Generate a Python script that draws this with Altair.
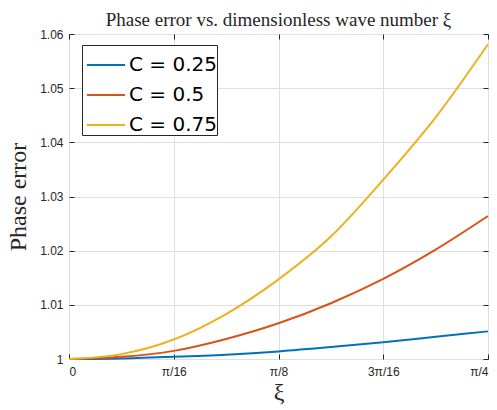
import math
import altair as alt
import pandas as pd

# xi positions as multiples of pi
xi_over_pi = [0, 1/32, 1/16, 3/32, 1/8, 5/32, 3/16, 7/32, 1/4]

# Phase error
err_025 = [1.0000, 1.0001, 1.0004, 1.0008, 1.0014, 1.0022, 1.0031, 1.0041, 1.0051]
err_050 = [1.0000, 1.0004, 1.0015, 1.0037, 1.0066, 1.0103, 1.0148, 1.0202, 1.0264]
err_075 = [1.0000, 1.0009, 1.0036, 1.0083, 1.0147, 1.0226, 1.0331, 1.0446, 1.0581]

series_names = ["C = 0.25", "C = 0.5", "C = 0.75"]
series_colors = ["#0072BD", "#D95319", "#EDB120"]

x_tick_labels = ["0", "π/16", "π/8", "3π/16", "π/4"]
y_ticks = [1.00, 1.01, 1.02, 1.03, 1.04, 1.05, 1.06]

rows = []
for name, vals in zip(series_names, [err_025, err_050, err_075]):
    for xp, v in zip(xi_over_pi, vals):
        rows.append({"xi": xp * math.pi, "err": v, "series": name})
df = pd.DataFrame(rows)

x_tick_vals = [k * math.pi / 16 for k in range(len(x_tick_labels))]
label_expr = "[" + ",".join("'" + s + "'" for s in x_tick_labels) + "][round(datum.value*16/PI)]"

xscale = alt.Scale(domain=[0, math.pi / 4], nice=False, zero=False)
yscale = alt.Scale(domain=[1.0, 1.06], nice=False, zero=False)

TICK = "#262626"
GRID = "#dfdfdf"

lines = alt.Chart(df).mark_line(strokeWidth=2, interpolate="monotone").encode(
    x=alt.X("xi:Q", scale=xscale,
            axis=alt.Axis(values=x_tick_vals, labelExpr=label_expr, ticks=False, domain=False,
                          grid=True, gridColor=GRID, labelPadding=7,
                          title="ξ", titleFont="Liberation Serif", titleFontSize=24,
                          titleFontWeight="normal", titleColor="#262626", titlePadding=3)),
    y=alt.Y("err:Q", scale=yscale,
            axis=alt.Axis(values=y_ticks, format=".2~f", ticks=False, domain=False,
                          grid=True, gridColor=GRID, labelPadding=6,
                          title="Phase error", titleFont="Liberation Serif", titleFontSize=24,
                          titleFontWeight="normal", titleColor="#262626", titlePadding=9)),
    color=alt.Color("series:N",
                    scale=alt.Scale(domain=series_names, range=series_colors),
                    legend=alt.Legend(title=None, orient="none", legendX=13, legendY=11,
                                      symbolType="stroke", symbolStrokeWidth=2, symbolSize=1444,
                                      symbolOffset=4,
                                      labelFont="DejaVu Sans", labelFontSize=20, labelColor="#000000",
                                      labelOffset=3,
                                      strokeColor="#262626", fillColor="white",
                                      padding=0, rowPadding=-8, cornerRadius=0)),
)

def tick_layer(xorient, yorient):
    return alt.Chart(df).mark_point(opacity=0).encode(
        x=alt.X("xi:Q", scale=xscale,
                axis=alt.Axis(orient=xorient, values=x_tick_vals, labels=False, grid=False,
                              domain=False, ticks=True, tickSize=5, tickColor=TICK,
                              offset=-5, title=None)),
        y=alt.Y("err:Q", scale=yscale,
                axis=alt.Axis(orient=yorient, values=y_ticks, labels=False, grid=False,
                              domain=False, ticks=True, tickSize=5, tickColor=TICK,
                              offset=-5, title=None)),
    )

chart = alt.layer(lines, tick_layer("bottom", "left"), tick_layer("top", "right")).resolve_axis(
    x="independent", y="independent"
).properties(
    width=419, height=325,
    title=alt.TitleParams(text="Phase error vs. dimensionless wave number ξ",
                          font="Liberation Serif", fontSize=19, fontWeight="normal",
                          color="#262626", anchor="middle", offset=1, dy=3),
    autosize=alt.AutoSizeParams(type="none"),
    padding={"left": 69, "top": 34, "right": 9, "bottom": 51},
).configure_view(stroke="#262626", strokeWidth=1).configure_axis(
    labelFont="Liberation Sans", labelFontSize=12, labelColor="#262626"
)

chart.save("out.html", embed_options={"renderer": "svg", "actions": False})
